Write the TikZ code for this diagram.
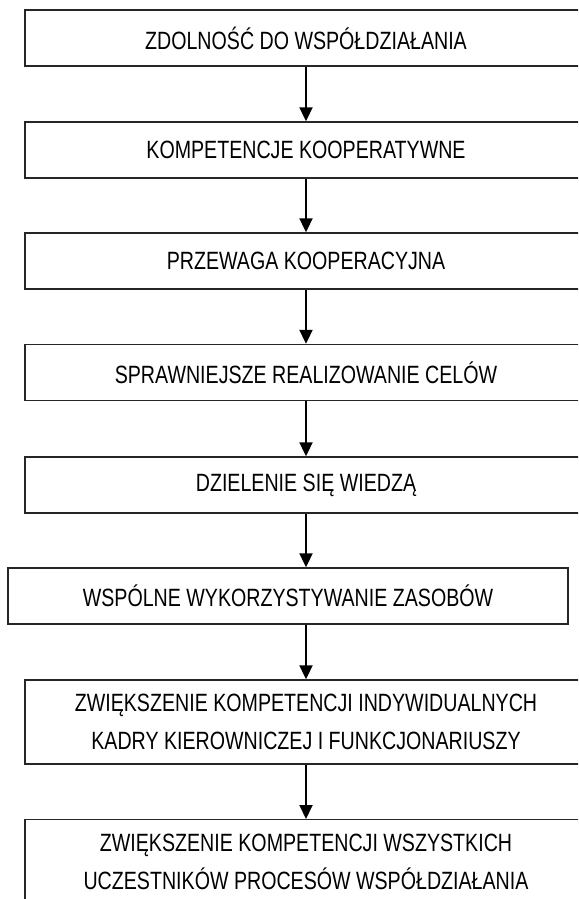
\documentclass[tikz,border=0pt]{standalone}
\usepackage{fontspec}
\setmainfont[FakeStretch=0.785]{Liberation Sans}
\usetikzlibrary{arrows.meta}
\begin{document}
\begin{tikzpicture}[x=1pt,y=1pt,
  box/.style={draw=black!85, line width=1.4pt, rectangle, inner sep=0pt,
    minimum width=562pt, minimum height=56pt, align=center,
    font=\fontsize{25}{38}\selectfont},
  tallbox/.style={box, minimum height=84pt},
  arr/.style={draw=black, line width=2pt, -{Triangle[length=14pt,width=13pt]}}]
\useasboundingbox (0,0) rectangle (578,-899);
\fill[white] (0,0) rectangle (578,-899);
\clip (0,0) rectangle (578,-899);
\node[box] (b1) at (306,-38) {ZDOLNOŚĆ DO WSPÓŁDZIAŁANIA};
\node[box] (b2) at (306,-150) {KOMPETENCJE KOOPERATYWNE};
\node[box] (b3) at (306,-261) {PRZEWAGA KOOPERACYJNA};
\node[box] (b4) at (306,-372.5) {SPRAWNIEJSZE REALIZOWANIE CELÓW};
\node[box] (b5) at (306,-485) {DZIELENIE SIĘ WIEDZĄ};
\node[box, minimum width=560pt] (b6) at (288,-596) {WSPÓLNE WYKORZYSTYWANIE ZASOBÓW};
\node[tallbox] (b7) at (306,-722) {ZWIĘKSZENIE KOMPETENCJI INDYWIDUALNYCH\\KADRY KIEROWNICZEJ I FUNKCJONARIUSZY};
\node[tallbox, anchor=north] (b8) at (306,-819) {ZWIĘKSZENIE KOMPETENCJI WSZYSTKICH\\UCZESTNIKÓW PROCESÓW WSPÓŁDZIAŁANIA};
\draw[arr] (b1.south) -- (b2.north);
\draw[arr] (b2.south) -- (b3.north);
\draw[arr] (b3.south) -- (b4.north);
\draw[arr] (b4.south) -- (b5.north);
\draw[arr] (b5.south) -- (b5.south |- b6.north);
\draw[arr] (b6.south -| b7.north) -- (b7.north);
\draw[arr] (b7.south) -- (b8.north);
\end{tikzpicture}
\end{document}
